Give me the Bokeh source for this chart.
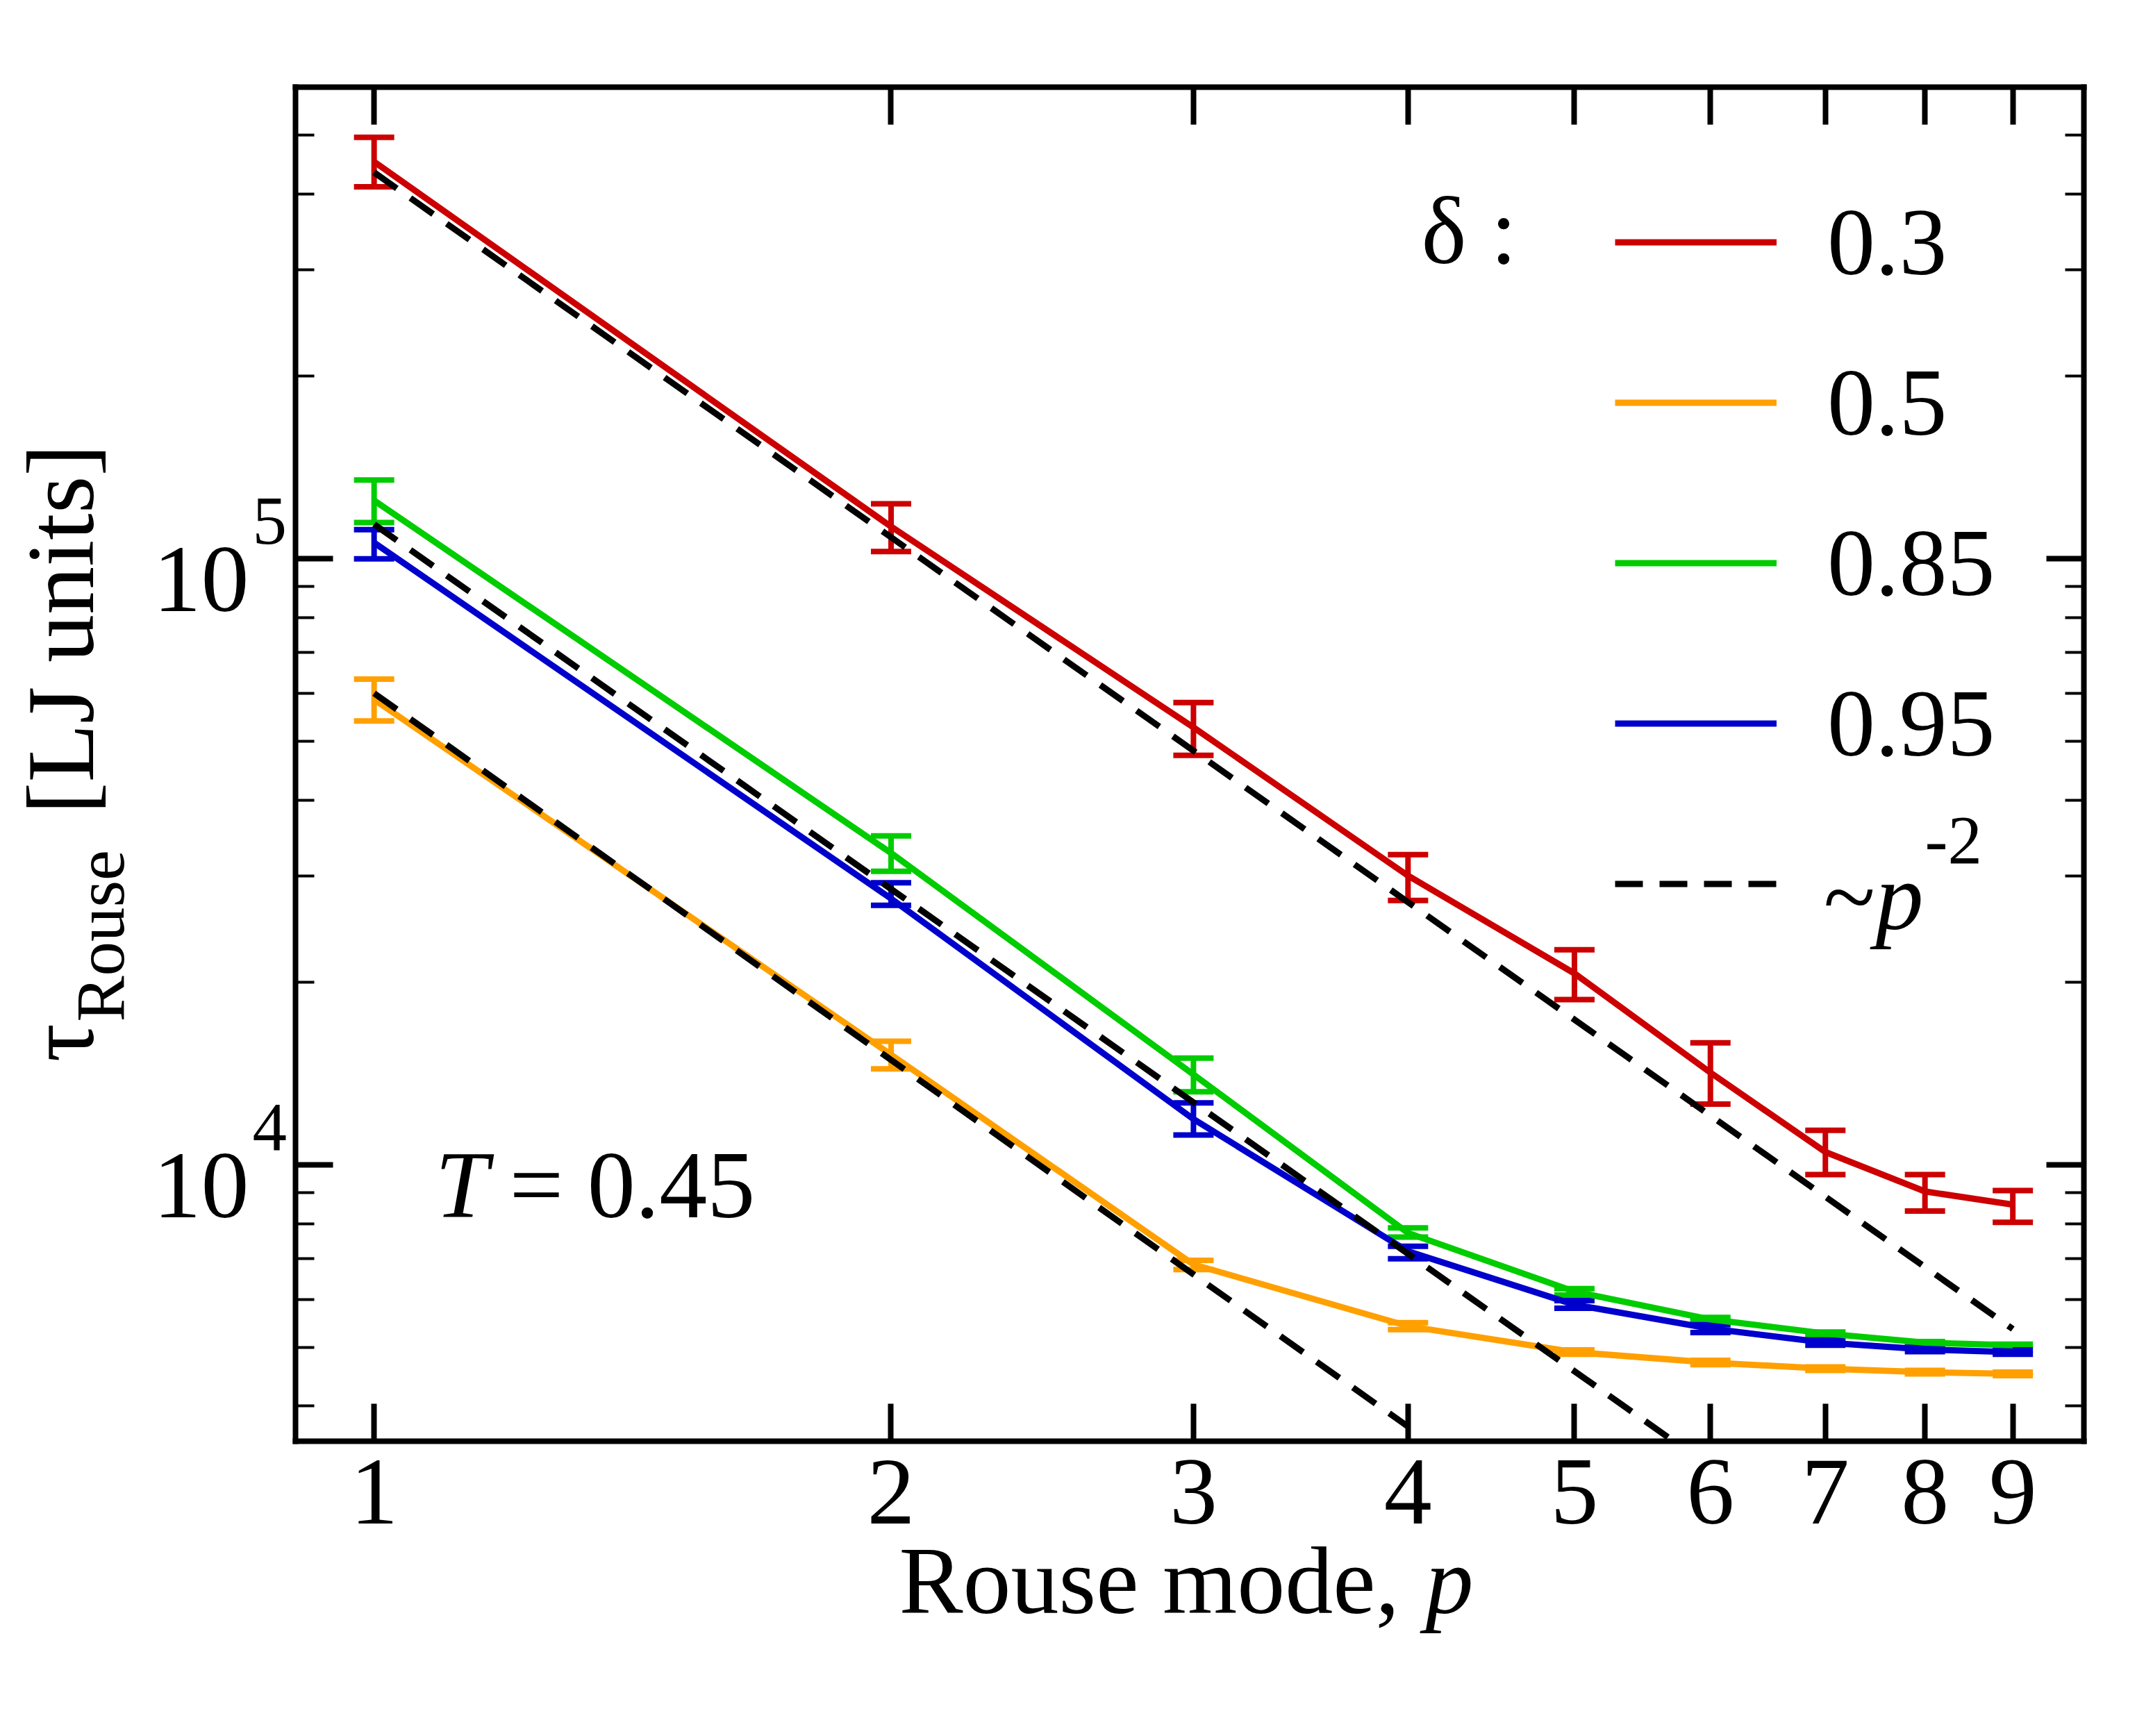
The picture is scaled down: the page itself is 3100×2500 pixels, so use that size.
import numpy as np
from bokeh.plotting import figure
from bokeh.models import (FixedTicker, LogAxis, Label, Legend, LegendItem,
                          Whisker, TeeHead, ColumnDataSource, CustomJSTickFormatter)
from bokeh.embed import file_html
from bokeh.resources import INLINE

# ---------------- data ----------------
modes = [1, 2, 3, 4, 5, 6, 7, 8, 9]

tau_d030 = [4.52e5, 1.13e5, 5.27e4, 3.00e4, 2.07e4, 1.42e4, 1.05e4, 9.04e3, 8.60e3]
hi_d030 = [4.96e5, 1.232e5, 5.79e4, 3.25e4, 2.265e4, 1.59e4, 1.14e4, 9.64e3, 9.07e3]
lo_d030 = [4.11e5, 1.028e5, 4.74e4, 2.73e4, 1.874e4, 1.26e4, 9.64e3, 8.39e3, 8.04e3]

tau_d050 = [5.86e4, 1.52e4, 6.85e3, 5.42e3, 4.91e3, 4.72e3, 4.61e3, 4.55e3, 4.52e3]
hi_d050 = [6.33e4, 1.60e4, 6.96e3, 5.49e3, 4.95e3, 4.76e3, 4.64e3, 4.58e3, 4.55e3]
lo_d050 = [5.40e4, 1.44e4, 6.72e3, 5.35e3, 4.87e3, 4.68e3, 4.58e3, 4.52e3, 4.49e3]

tau_d085 = [1.248e5, 3.27e4, 1.41e4, 7.72e3, 6.18e3, 5.56e3, 5.27e3, 5.09e3, 5.04e3]
hi_d085 = [1.349e5, 3.49e4, 1.50e4, 7.87e3, 6.25e3, 5.60e3, 5.30e3, 5.11e3, 5.06e3]
lo_d085 = [1.148e5, 3.05e4, 1.32e4, 7.60e3, 6.10e3, 5.52e3, 5.24e3, 5.07e3, 5.02e3]

tau_d095 = [1.063e5, 2.75e4, 1.19e4, 7.20e3, 5.88e3, 5.37e3, 5.09e3, 4.96e3, 4.91e3]
hi_d095 = [1.117e5, 2.92e4, 1.266e4, 7.34e3, 5.97e3, 5.45e3, 5.14e3, 5.00e3, 4.95e3]
lo_d095 = [1.000e5, 2.68e4, 1.12e4, 7.00e3, 5.80e3, 5.29e3, 5.04e3, 4.92e3, 4.87e3]

series_labels = ["0.3", "0.5", "0.85", "0.95"]
series_colors = ["#CC0000", "#FFA000", "#00CC00", "#0000CC"]

# ~p^-2 guide lines (visible end points)
guide1_p = [1, 9]
guide1_tau = [4.34e5, 5.36e3]
guide2_p = [1, 5.72]
guide2_tau = [1.14e5, 3.49e3]
guide3_p = [1, 4]
guide3_tau = [6.0e4, 3.7e3]

# axis box limits and ticks
X_LO, X_HI = 0.9, 9.9
Y_LO, Y_HI = 3500.0, 6.0e5
x_ticks = [1, 2, 3, 4, 5, 6, 7, 8, 9]
y_major = [1e4, 1e5]
y_minor = [4e3, 5e3, 6e3, 7e3, 8e3, 9e3,
           2e4, 3e4, 4e4, 5e4, 6e4, 7e4, 8e4, 9e4,
           2e5, 3e5, 4e5, 5e5, 6e5]

FONT = "Liberation Serif"
BIG = "138px"
SMALL = "99px"

# ---------------- layout: the axis box inside a full-canvas frame ----------------
W, H = 3084, 2484
BOX_L, BOX_R, BOX_T, BOX_B = 425, 3000, 125, 2075   # pixel edges of the axis box
dec_x = (BOX_R - BOX_L) / (np.log10(X_HI) - np.log10(X_LO))
dec_y = (BOX_B - BOX_T) / (np.log10(Y_HI) - np.log10(Y_LO))
x_start = 10 ** (np.log10(X_LO) - BOX_L / dec_x)
x_end = 10 ** (np.log10(X_HI) + (W - BOX_R) / dec_x)
y_start = 10 ** (np.log10(Y_LO) - (H - BOX_B) / dec_y)
y_end = 10 ** (np.log10(Y_HI) + BOX_T / dec_y)

p = figure(width=W, height=H, x_axis_type="log", y_axis_type="log",
           x_axis_location=None, y_axis_location=None,
           x_range=(x_start, x_end), y_range=(y_start, y_end),
           output_backend="svg", toolbar_location=None, min_border=0)
p.grid.visible = False
p.outline_line_color = None
p.background_fill_color = "white"
p.border_fill_color = "white"

blank = CustomJSTickFormatter(code="return ''")


def style_axis(ax, major_len=54, minor_len=27):
    ax.axis_line_width = 8
    ax.axis_line_color = "black"
    ax.axis_line_cap = "square"
    ax.major_tick_in = major_len
    ax.major_tick_out = 0
    ax.major_tick_line_width = 8
    ax.major_tick_line_color = "black"
    ax.minor_tick_in = minor_len
    ax.minor_tick_out = 0
    ax.minor_tick_line_width = 4
    ax.minor_tick_line_color = "black"


bottom = LogAxis(fixed_location=Y_LO, bounds=(X_LO, X_HI),
                 ticker=FixedTicker(ticks=x_ticks, minor_ticks=[]))
top = LogAxis(fixed_location=Y_HI, bounds=(X_LO, X_HI),
              ticker=FixedTicker(ticks=x_ticks, minor_ticks=[]), formatter=blank)
left = LogAxis(fixed_location=X_LO, bounds=(Y_LO, Y_HI),
               ticker=FixedTicker(ticks=y_major, minor_ticks=y_minor), formatter=blank)
right = LogAxis(fixed_location=X_HI, bounds=(Y_LO, Y_HI),
                ticker=FixedTicker(ticks=y_major, minor_ticks=y_minor), formatter=blank)
for ax in (bottom, top, left, right):
    style_axis(ax)
bottom.major_label_text_font = FONT
bottom.major_label_text_font_size = BIG
bottom.major_label_text_color = "black"
bottom.major_label_standoff = 27
p.add_layout(bottom, "below")
p.add_layout(top, "above")
p.add_layout(left, "left")
p.add_layout(right, "right")

# ---------------- data lines + error bars ----------------
series = [(tau_d030, hi_d030, lo_d030), (tau_d050, hi_d050, lo_d050),
          (tau_d085, hi_d085, lo_d085), (tau_d095, hi_d095, lo_d095)]
line_renderers = []
for (tau, hi, lo), col in zip(series, series_colors):
    src = ColumnDataSource(dict(p=modes, tau=tau, hi=hi, lo=lo))
    w = Whisker(base="p", upper="hi", lower="lo", source=src, dimension="height",
                line_color=col, line_width=8,
                upper_head=TeeHead(size=58, line_color=col, line_width=8),
                lower_head=TeeHead(size=58, line_color=col, line_width=8))
    p.add_layout(w)
    r = p.line("p", "tau", source=src, line_color=col, line_width=9)
    line_renderers.append(r)

guide_renderers = []
for gp, gt in [(guide1_p, guide1_tau), (guide2_p, guide2_tau), (guide3_p, guide3_tau)]:
    g = p.line(gp, gt, line_color="black", line_width=9, line_dash="40 24")
    guide_renderers.append(g)

# ---------------- legend ----------------
items = [LegendItem(label=lab_, renderers=[r]) for lab_, r in zip(series_labels, line_renderers)]
items.append(LegendItem(label=" ", renderers=[guide_renderers[0]]))
legend = Legend(items=items, location=(2325, 1096), orientation="vertical",
                glyph_width=233, glyph_height=231, label_height=231,
                label_standoff=73, spacing=0, padding=0, margin=0,
                border_line_color=None, background_fill_alpha=0,
                label_text_font=FONT, label_text_font_size=BIG,
                label_text_color="black")
p.add_layout(legend)

FIX = 38  # baseline correction of Label text


def lab(text, x, y, size=BIG, style="normal", align="left", angle=0.0,
        y_units="screen", y_offset=0):
    if angle:
        x = x - FIX
    else:
        y_offset = y_offset + FIX
    p.add_layout(Label(x=x, y=y, x_units="screen", y_units=y_units, y_offset=y_offset,
                       text=text, text_font=FONT, text_font_size=size,
                       text_font_style=style, text_align=align,
                       text_baseline="alphabetic", angle=angle,
                       text_color="black"))


# legend header and the ~p^-2 entry text
lab("δ :", 2046, 2114)
lab("~", 2625, 1155)
lab("p", 2700, 1155, style="italic")
lab("-2", 2771, 1236, size=SMALL)

# y tick labels 10^n
for v in y_major:
    n = int(round(np.log10(v)))
    lab("10", 358, v, y_units="data", align="right", y_offset=-68)
    lab(str(n), 363, v, size=SMALL, y_units="data", y_offset=16)

# annotation T = 0.45
lab("T", 626, 740, style="italic")
lab("= 0.45", 733, 740)

# x-axis title
lab("Rouse mode,", 1294, 170)
lab("p", 2052, 170, style="italic")

# y-axis title
lab("τ", 125, 955, angle=np.pi / 2)
lab("Rouse", 182, 1013, size=SMALL, angle=np.pi / 2)
lab("[LJ units]", 125, 1312, angle=np.pi / 2)

open("out.html", "w").write(file_html(p, INLINE))
